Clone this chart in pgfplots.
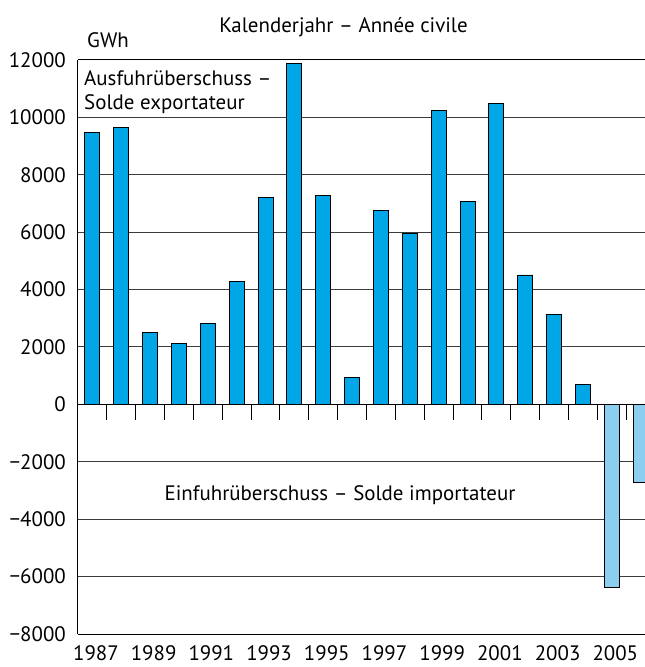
\documentclass[border=0pt]{standalone}
\usepackage{pgfplots}
\pgfplotsset{compat=1.18}
\usepackage{fontspec}
\setmainfont{PT Sans}
\definecolor{posblue}{RGB}{0,166,230}
\definecolor{negblue}{RGB}{140,206,240}
\definecolor{gridgray}{RGB}{60,60,60}
\begin{document}
\fontsize{21}{25}\selectfont
\begin{tikzpicture}
\begin{axis}[
  scale only axis, width=567bp, height=574bp,
  xmin=1986.5, xmax=2006.15, ymin=-8000, ymax=12000,
  axis x line*=box, axis y line*=left,
  y axis line style={-},
  axis line style={black, line width=1bp},
  scaled y ticks=false, scaled x ticks=false,
  ytick={-8000,-6000,-4000,-2000,0,2000,4000,6000,8000,10000,12000},
  yticklabels={−8000,−6000,−4000,−2000,0,2000,4000,6000,8000,10000,12000},
  xtick={1987,1989,1991,1993,1995,1997,1999,2001,2003,2005},
  xticklabels={1987,1989,1991,1993,1995,1997,1999,2001,2003,2005},
  major tick length=0pt,
  yticklabel style={xshift=-5bp},
  xticklabel style={xshift=3.5bp, yshift=-4bp},
  ymajorgrids, grid style={gridgray, line width=1bp},
  tick label style={font=\fontsize{21}{25}\selectfont},
]
\addplot[ybar, bar width=0.52, bar shift=0pt, fill=posblue, draw=black, line width=0.9bp] coordinates {
 (1987,9480) (1988,9650) (1989,2515) (1990,2110) (1991,2806) (1992,4290)
 (1993,7210) (1994,11880) (1995,7290) (1996,950) (1997,6760) (1998,5970)
 (1999,10250) (2000,7070) (2001,10470) (2002,4510) (2003,3120) (2004,710)
};
\addplot[ybar, bar width=0.52, bar shift=0pt, fill=negblue, draw=black, line width=0.9bp] coordinates {
 (2005,-6380) (2006,-2720)
};
\draw[black, line width=1bp] (axis cs:1986.5,0) -- (axis cs:2006.15,0);
\pgfplotsinvokeforeach{1987.5,1988.5,...,2005.5}{
  \draw[black, line width=1bp] (axis cs:#1,0) -- (axis cs:#1,-560);
}
\end{axis}
\node[anchor=center, inner sep=0pt] at ([shift={(265.5bp,607bp)}]current axis.south west) {Kalenderjahr – Année civile};
\node[anchor=west, inner sep=0pt] at ([shift={(9bp,594bp)}]current axis.south west) {GWh};
\node[anchor=north west, inner sep=0pt, align=left] at ([shift={(6bp,-10bp)}]current axis.north west) {Ausfuhrüberschuss –\\Solde exportateur};
\node[anchor=center, inner sep=0pt] at ([shift={(262bp,139bp)}]current axis.south west) {Einfuhrüberschuss – Solde importateur};
\pgfresetboundingbox
\path[use as bounding box] ([shift={(-78bp,-33bp)}]current axis.south west) rectangle ++(645bp,667bp);
\end{tikzpicture}
\end{document}
